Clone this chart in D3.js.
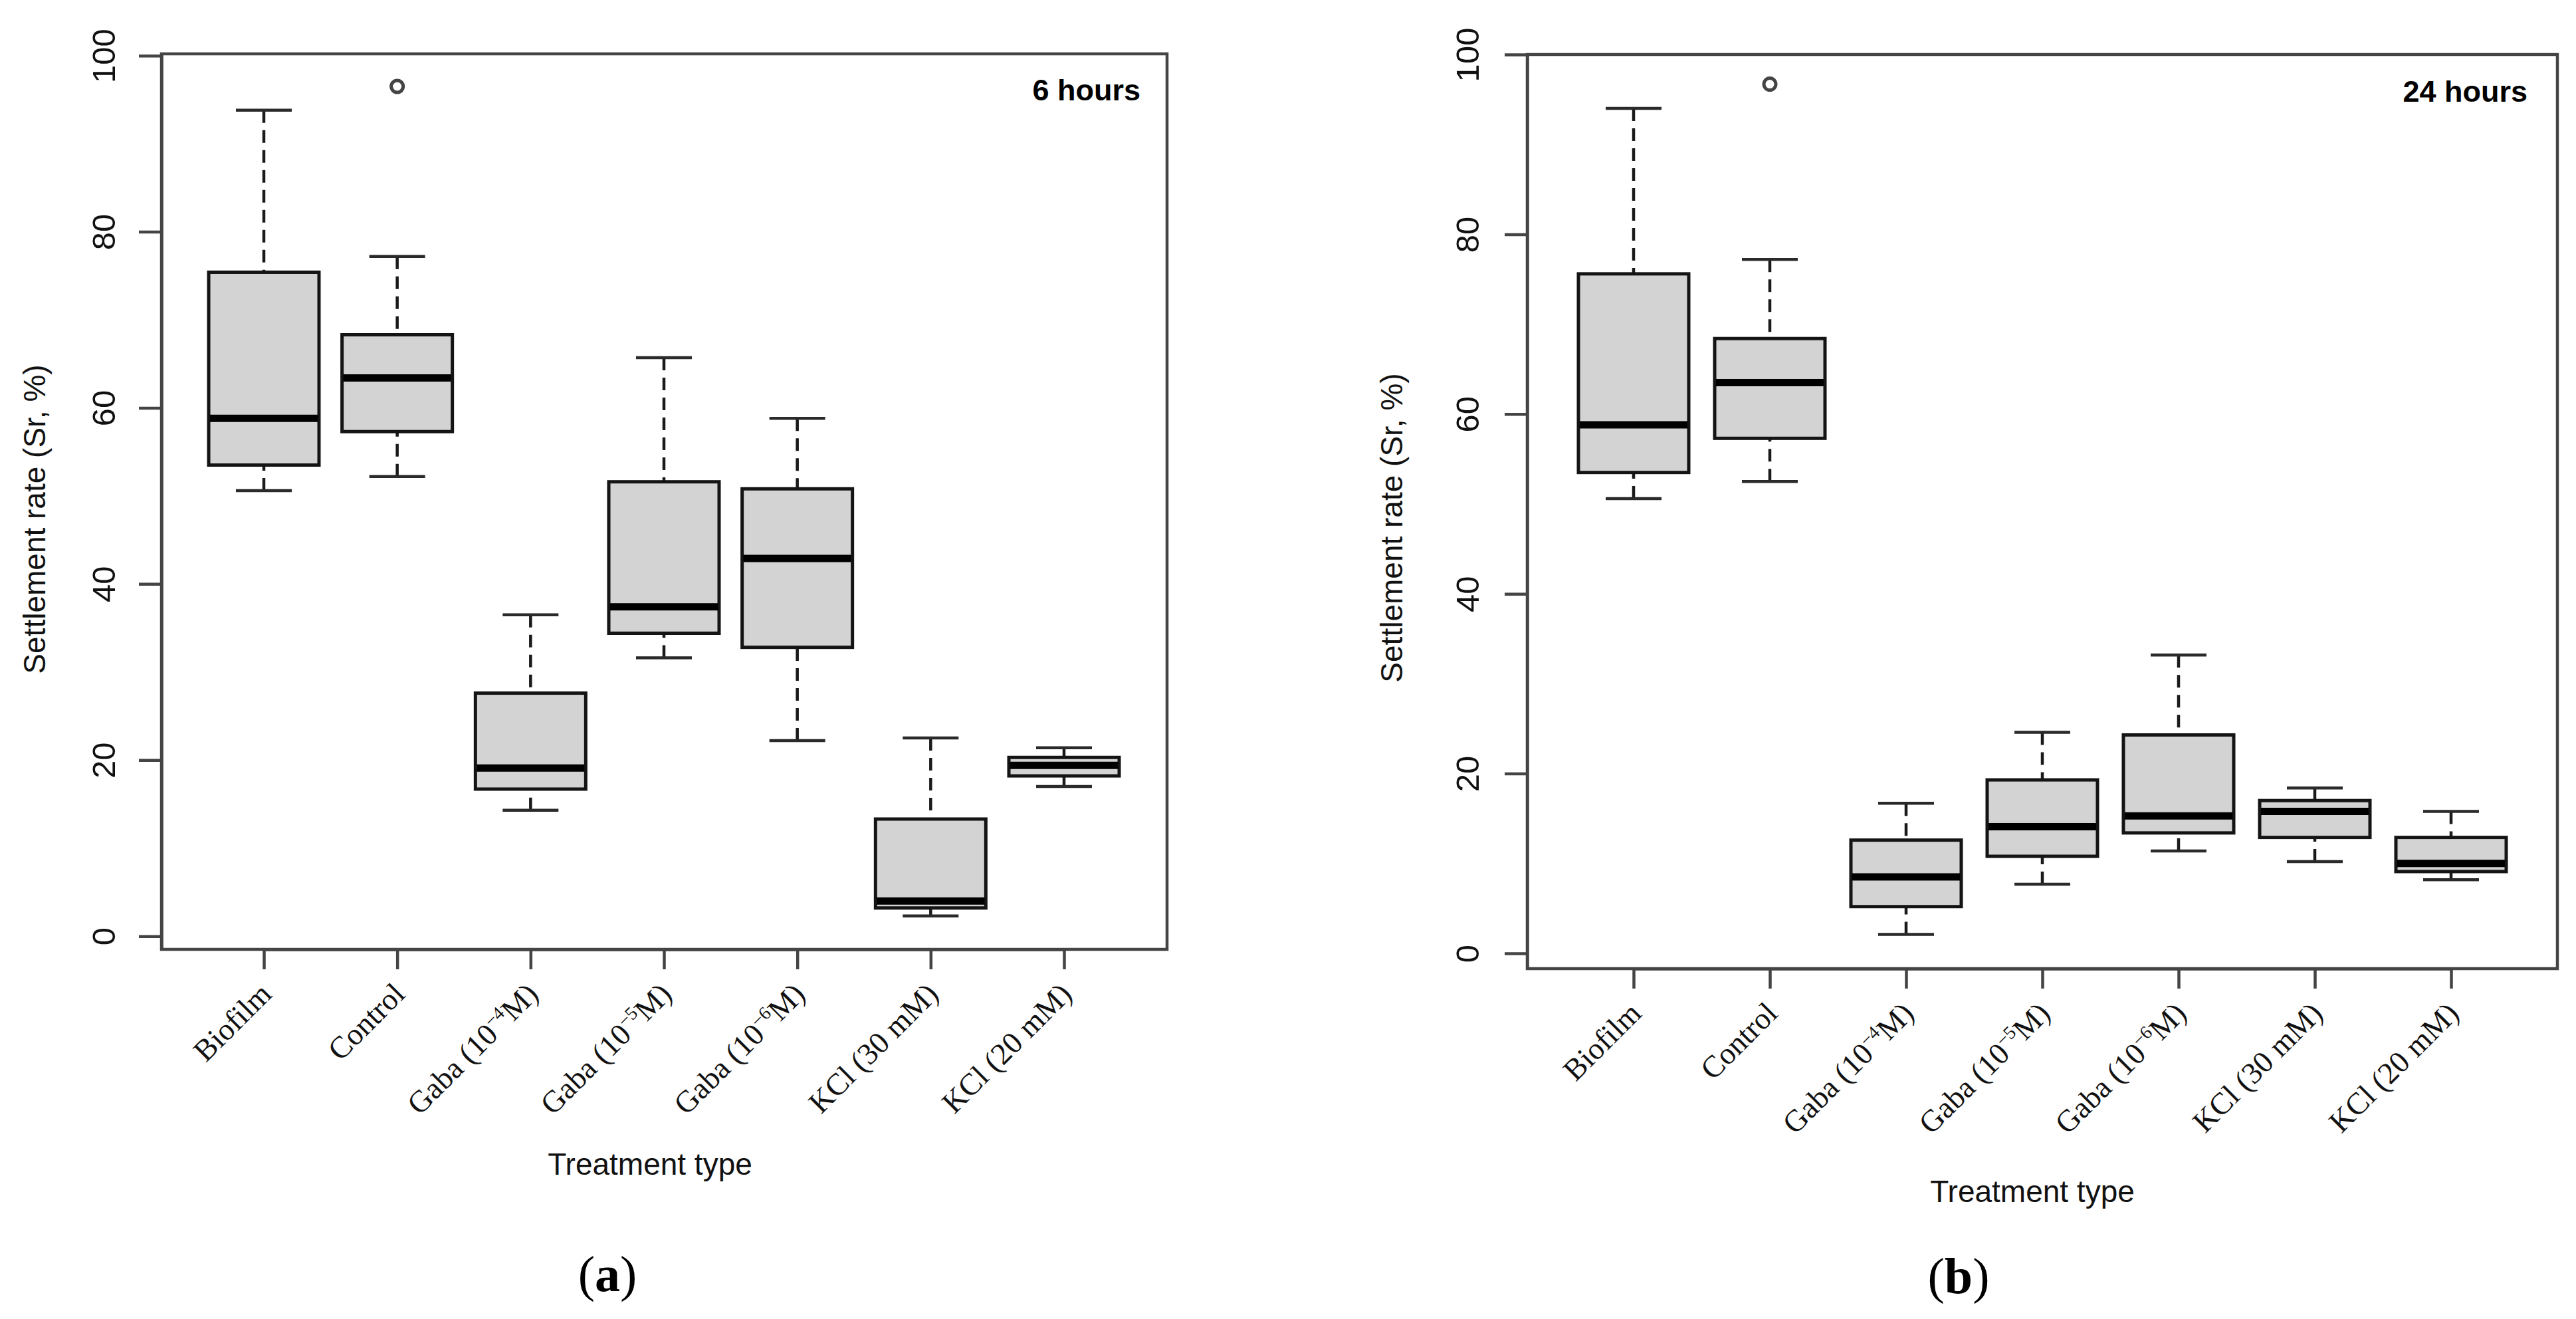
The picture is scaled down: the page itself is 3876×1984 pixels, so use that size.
<!DOCTYPE html>
<html>
<head>
<meta charset="utf-8">
<script src="https://cdn.jsdelivr.net/npm/d3@7"></script>
<style>
  body { margin: 0; background: #fff; }
</style>
</head>
<body>
<svg></svg>
<script>
// categories (^...^ marks the superscript part)
const treatments = ['Biofilm', 'Control', 'Gaba (10^−4^M)', 'Gaba (10^−5^M)', 'Gaba (10^−6^M)', 'KCl (30 mM)', 'KCl (20 mM)']
const yTicks = [0, 20, 40, 60, 80, 100]

// (a) 6 hours : lower whisker, Q1, median, Q3, upper whisker, outliers
const low6 = [50.6, 52.2, 14.3, 31.6, 22.2, 2.3, 17.0]
const q1_6 = [53.5, 57.3, 16.7, 34.4, 32.8, 3.2, 18.2]
const med6 = [58.8, 63.4, 19.1, 37.4, 42.9, 4.0, 19.4]
const q3_6 = [75.4, 68.3, 27.6, 51.6, 50.8, 13.3, 20.3]
const high6 = [93.8, 77.2, 36.5, 65.7, 58.8, 22.5, 21.4]
const out6 = [[], [96.5], [], [], [], [], []]

// (b) 24 hours
const low24 = [50.6, 52.5, 2.1, 7.7, 11.4, 10.2, 8.2]
const q1_24 = [53.5, 57.3, 5.2, 10.8, 13.4, 12.9, 9.1]
const med24 = [58.8, 63.5, 8.5, 14.1, 15.3, 15.8, 10.0]
const q3_24 = [75.6, 68.4, 12.6, 19.3, 24.3, 17.0, 12.9]
const high24 = [94.0, 77.2, 16.7, 24.6, 33.2, 18.4, 15.8]
const out24 = [[], [96.7], [], [], [], [], []]

const svg = d3.select('svg').attr('width', 3876).attr('height', 1984)
const translate = (x, y) => `translate(${x}, ${y})`

const sans = "'Liberation Sans', Arial, sans-serif"
const serif = "'Liberation Serif', 'Times New Roman', serif"
const axisGrey = '#444'

const toStats = (lo, q1, md, q3, hi, out) =>
  treatments.map((t, i) => ({t, lo: lo[i], q1: q1[i], md: md[i], q3: q3[i], hi: hi[i], out: out[i]}))

const panels = [
  {
    stats: toStats(low6, q1_6, med6, q3_6, high6, out6),
    left: 243, right: 1756, top: 81, bottom: 1428, yDomain: [-1.5, 100.2],
    x0: 397, x1: 1601, tickLabelOffset: 70,
    title: '6 hours', titleX: 1716, titleY: 151,
    ylabX: 68, ylabY: 781, xlabX: 978, xlabY: 1767,
    tag: 'a', tagX: 914, tagY: 1942
  },
  {
    stats: toStats(low24, q1_24, med24, q3_24, high24, out24),
    left: 2298, right: 3848, top: 82, bottom: 1457, yDomain: [-1.7, 100],
    x0: 2458, x1: 3688, tickLabelOffset: 73,
    title: '24 hours', titleX: 3803, titleY: 153,
    ylabX: 2110, ylabY: 794, xlabX: 3058, xlabY: 1808,
    tag: 'b', tagX: 2947, tagY: 1945
  }
]

const boxW = 166
const capW = 84

panels.forEach(p => {
  const x = d3.scalePoint().domain(treatments).range([p.x0, p.x1])
  const y = d3.scaleLinear().domain(p.yDomain).range([p.bottom, p.top])
  const g = svg.append('g')

  // boxes
  const box = g.selectAll('g.box').data(p.stats).enter().append('g').attr('class', 'box')

  box.append('line') // upper whisker
    .attr('x1', d => x(d.t)).attr('x2', d => x(d.t))
    .attr('y1', d => y(d.hi)).attr('y2', d => y(d.q3))
    .attr('stroke', '#1a1a1a').attr('stroke-width', 4.5).attr('stroke-dasharray', '19,11')
  box.append('line') // lower whisker
    .attr('x1', d => x(d.t)).attr('x2', d => x(d.t))
    .attr('y1', d => y(d.lo)).attr('y2', d => y(d.q1))
    .attr('stroke', '#1a1a1a').attr('stroke-width', 4.5).attr('stroke-dasharray', '19,11')

  ;['hi', 'lo'].forEach(k => {
    box.append('line')
      .attr('x1', d => x(d.t) - capW / 2).attr('x2', d => x(d.t) + capW / 2)
      .attr('y1', d => y(d[k])).attr('y2', d => y(d[k]))
      .attr('stroke', '#2a2a2a').attr('stroke-width', 4.5)
  })

  box.append('rect')
    .attr('x', d => x(d.t) - boxW / 2).attr('width', boxW)
    .attr('y', d => y(d.q3)).attr('height', d => y(d.q1) - y(d.q3))
    .attr('fill', '#d3d3d3').attr('stroke', '#141414').attr('stroke-width', 5)

  box.append('line') // median
    .attr('x1', d => x(d.t) - boxW / 2 + 2).attr('x2', d => x(d.t) + boxW / 2 - 2)
    .attr('y1', d => y(d.md)).attr('y2', d => y(d.md))
    .attr('stroke', '#000').attr('stroke-width', 11)

  box.selectAll('circle').data(d => d.out.map(v => ({t: d.t, v}))).enter().append('circle')
    .attr('cx', d => x(d.t)).attr('cy', d => y(d.v)).attr('r', 9)
    .attr('fill', 'none').attr('stroke', '#444').attr('stroke-width', 5)

  // frame
  g.append('rect')
    .attr('x', p.left).attr('y', p.top)
    .attr('width', p.right - p.left).attr('height', p.bottom - p.top)
    .attr('fill', 'none').attr('stroke', axisGrey).attr('stroke-width', 4.5)

  // y axis
  const yAxis = g.append('g').attr('transform', translate(p.left, 0))
    .call(d3.axisLeft(y).tickValues(yTicks).tickSize(34).tickSizeOuter(0))
  yAxis.selectAll('path, line').attr('stroke', axisGrey).attr('stroke-width', 4.5)
  yAxis.selectAll('text')
    .attr('x', null).attr('dy', null)
    .attr('text-anchor', 'middle')
    .attr('transform', `translate(${-p.tickLabelOffset}, 0) rotate(-90)`)
    .attr('font-family', sans).attr('font-size', 49).attr('fill', '#111')

  // x axis
  const xAxis = g.append('g').attr('transform', translate(0, p.bottom))
    .call(d3.axisBottom(x).tickSize(30).tickSizeOuter(0).tickFormat(''))
  xAxis.selectAll('path, line').attr('stroke', axisGrey).attr('stroke-width', 4.5)

  treatments.forEach(t => {
    const parts = t.split('^')
    const txt = g.append('text')
      .attr('transform', `${translate(x(t) + 14, p.bottom + 30 + 40)} rotate(-45)`)
      .attr('text-anchor', 'end')
      .attr('font-family', serif).attr('font-size', 46).attr('fill', '#111')
    txt.append('tspan').text(parts[0])
    if (parts.length > 1) {
      txt.append('tspan').text(parts[1]).attr('font-size', 28).attr('dy', -17)
      txt.append('tspan').text(parts[2]).attr('dy', 17)
    }
  })

  // titles
  g.append('text')
    .attr('x', p.titleX).attr('y', p.titleY)
    .attr('text-anchor', 'end')
    .attr('font-family', sans).attr('font-weight', 'bold').attr('font-size', 45)
    .text(p.title)

  g.append('text')
    .attr('transform', `${translate(p.ylabX, p.ylabY)} rotate(-90)`)
    .attr('text-anchor', 'middle')
    .attr('font-family', sans).attr('font-size', 46).attr('fill', '#111')
    .text('Settlement rate (Sr, %)')

  g.append('text')
    .attr('x', p.xlabX).attr('y', p.xlabY)
    .attr('text-anchor', 'middle')
    .attr('font-family', sans).attr('font-size', 46).attr('fill', '#111')
    .text('Treatment type')

  const tag = g.append('text')
    .attr('x', p.tagX).attr('y', p.tagY)
    .attr('text-anchor', 'middle')
    .attr('font-family', serif).attr('font-size', 76)
  tag.append('tspan').text('(')
  tag.append('tspan').attr('font-weight', 'bold').text(p.tag)
  tag.append('tspan').text(')')
})
</script>
</body>
</html>
